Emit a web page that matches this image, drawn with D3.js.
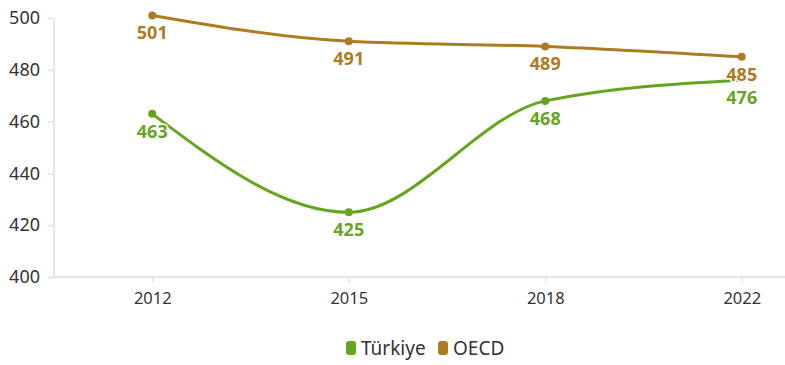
<!DOCTYPE html>
<html><head><meta charset="utf-8">
<script src="https://cdn.jsdelivr.net/npm/d3@7"></script>
<style>body{margin:0;background:#fff;font-family:"Noto Sans",sans-serif;}</style>
</head><body>
<svg id="c" width="785" height="365"></svg>
<script>
const years = ["2012","2015","2018","2022"];
const turkiye = [463,425,468,476];
const oecd = [501,491,489,485];
const yTicks = [400,420,440,460,480,500];
const seriesNames = ["Türkiye","OECD"];
const colors = ["#66a51f","#ae7b24"];

const svg = d3.select("#c");
const x = d3.scalePoint().domain(years).range([54, 840]).padding(0.5);
const y = d3.scaleLinear().domain([400,500]).range([277,18]);

// axes
const gy = svg.append("g").attr("transform","translate(54,0)")
  .call(d3.axisLeft(y).tickValues(yTicks).tickSize(6).tickPadding(8));
gy.select(".domain").attr("stroke","#e6e6e6").attr("stroke-width",2).attr("d","M0,18V277");
gy.selectAll(".tick line").attr("stroke","#e6e6e6").attr("stroke-width",2);
gy.selectAll("text").attr("font-size",18).attr("fill","#333").attr("font-family","Noto Sans");

const gx = svg.append("g").attr("transform","translate(0,277)")
  .call(d3.axisBottom(x).tickSize(6).tickPadding(9));
gx.select(".domain").attr("stroke","#e6e6e6").attr("stroke-width",2).attr("d","M54,0H785");
gx.selectAll(".tick line").attr("stroke","#e6e6e6").attr("stroke-width",1.5);
gx.selectAll("text").attr("font-size",16.5).attr("fill","#333").attr("font-family","Noto Sans");

const data = [turkiye, oecd];
const line = d3.line().x((d,i)=>x(years[i])).y(d=>y(d)).curve(d3.curveMonotoneX);

data.forEach((vals,si)=>{
  const g = svg.append("g");
  g.append("path").attr("d", line(vals)).attr("fill","none")
    .attr("stroke",colors[si]).attr("stroke-width",3).attr("stroke-linecap","round");
  g.selectAll("circle").data(vals).join("circle")
    .attr("cx",(d,i)=>x(years[i])).attr("cy",d=>y(d)).attr("r",4)
    .attr("fill",colors[si])
    .attr("opacity",(d,i)=> (si===0 && i===3) ? 0 : 1);
  g.selectAll("text").data(vals).join("text")
    .attr("x",(d,i)=>x(years[i])).attr("y",d=>y(d)+24)
    .attr("text-anchor","middle").attr("font-size",18).attr("font-weight","bold")
    .attr("font-family","Noto Sans").attr("fill",colors[si])
    .attr("stroke","#fff").attr("stroke-width",3).attr("paint-order","stroke")
    .text(d=>d);
});

// legend
const lg = svg.append("g");
const items = [{n:seriesNames[0],c:colors[0],x:346},{n:seriesNames[1],c:colors[1],x:438}];
items.forEach(it=>{
  lg.append("rect").attr("x",it.x).attr("y",341).attr("width",10).attr("height",14).attr("rx",3).attr("fill",it.c);
  lg.append("text").attr("x",it.x+15).attr("y",355).attr("font-size",19)
    .attr("font-family","Noto Sans").attr("fill","#333").text(it.n);
});
</script>
</body></html>
